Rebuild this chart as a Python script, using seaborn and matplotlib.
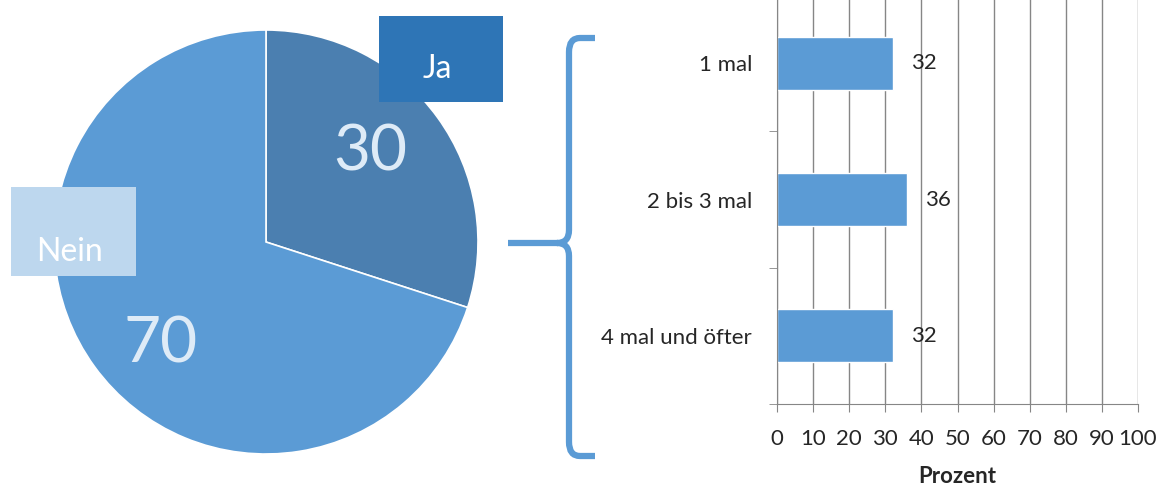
import numpy as np
import pandas as pd
import seaborn as sns
import matplotlib.pyplot as plt
from matplotlib.path import Path
from matplotlib.patches import PathPatch, Rectangle

# pie data
pie_labels = ['Ja', 'Nein']
pie_values = [30, 70]
pie_colors = ['#4B7FB0', '#5B9BD5']
box_colors = ['#2E75B6', '#BDD7EE']

# bar data
categories = ['1 mal', '2 bis 3 mal', '4 mal und öfter']
values = [32, 36, 32]
x_ticks = list(range(0, 101, 10))

sns.set_style('white')
plt.rcParams['font.family'] = ['Lato', 'DejaVu Sans']

W, H = 1168, 494
fig = plt.figure(figsize=(W / 100, H / 100), dpi=100)

# pie
ax_pie = fig.add_axes([54 / W, 40 / H, 424 / W, 424 / H])
wedges, texts = ax_pie.pie(
    pie_values, colors=pie_colors, startangle=90, counterclock=False,
    wedgeprops=dict(edgecolor='white', linewidth=1.2))
# value labels, placed a bit off the wedge middle like the original
for w, v, shift, r in zip(wedges, pie_values, [6, 7], [0.66, 0.68]):
    ang = np.deg2rad((w.theta1 + w.theta2) / 2 + shift)
    ax_pie.text(r * np.cos(ang), r * np.sin(ang) - 0.02, str(v), color='#DEEBF7',
                fontsize=46, ha='center', va='center')
ax_pie.set_xlim(-1, 1)
ax_pie.set_ylim(-1, 1)

# bars
ax_bar = fig.add_axes([777 / W, 90 / H, 361 / W, 409 / H])
df = pd.DataFrame({'Kategorie': categories, 'Prozent': values})
sns.barplot(data=df, x='Prozent', y='Kategorie', orient='h', color='#5B9BD5',
            saturation=1, width=0.39, ax=ax_bar)
ax_bar.set_xlim(0, 100)
ax_bar.set_ylim(2.5, -0.5)
ax_bar.set_xticks(x_ticks)
ax_bar.grid(axis='x', color='#868686', linewidth=1)
ax_bar.set_axisbelow(True)
for side in ['top', 'right']:
    ax_bar.spines[side].set_visible(False)
for side in ['left', 'bottom']:
    ax_bar.spines[side].set_color('#868686')
ax_bar.tick_params(axis='x', direction='out', length=6, color='#868686',
                   labelsize=16, pad=12, bottom=True)
ax_bar.tick_params(axis='y', length=0, labelsize=16, pad=18)
ax_bar.set_yticks([0.5, 1.5, 2.5], minor=True)
ax_bar.tick_params(axis='y', which='minor', direction='out', length=6,
                   color='#868686', left=True)
ax_bar.set_ylabel('')
ax_bar.set_xlabel('Prozent', fontsize=16, fontweight='bold', labelpad=12)
ax_bar.bar_label(ax_bar.containers[0], padding=13, fontsize=16)

# overlay for legend boxes and brace
ov = fig.add_axes([0, 0, 1, 1], zorder=5)
ov.set_xlim(0, W)
ov.set_ylim(H, 0)
ov.axis('off')
ov.patch.set_alpha(0)

boxes = [(379, 16, 124, 86), (11, 187, 125, 89)]
for (bx, by, bw, bh), lab, col, dy in zip(boxes, pie_labels, box_colors, [10, 20]):
    ov.add_patch(Rectangle((bx, by), bw, bh, facecolor=col, edgecolor='none'))
    ov.text(bx + bw / 2 - 4, by + bh / 2 + dy, lab, color='white', fontsize=23,
            ha='center', va='center')

verts = [(595, 38), (580, 38), (569, 38), (569, 52), (569, 230),
         (569, 243), (557, 243), (569, 243), (569, 256), (569, 442),
         (569, 456), (580, 456), (595, 456)]
codes = [Path.MOVETO, Path.LINETO, Path.CURVE3, Path.CURVE3, Path.LINETO,
         Path.CURVE3, Path.CURVE3, Path.CURVE3, Path.CURVE3, Path.LINETO,
         Path.CURVE3, Path.CURVE3, Path.LINETO]
ov.add_patch(PathPatch(Path(verts, codes), facecolor='none',
                       edgecolor='#5B9BD5', linewidth=4.5, capstyle='butt'))
ov.plot([508, 558], [243, 243], color='#5B9BD5', linewidth=4.5,
        solid_capstyle='butt')

fig.savefig('out.png', dpi=100)
